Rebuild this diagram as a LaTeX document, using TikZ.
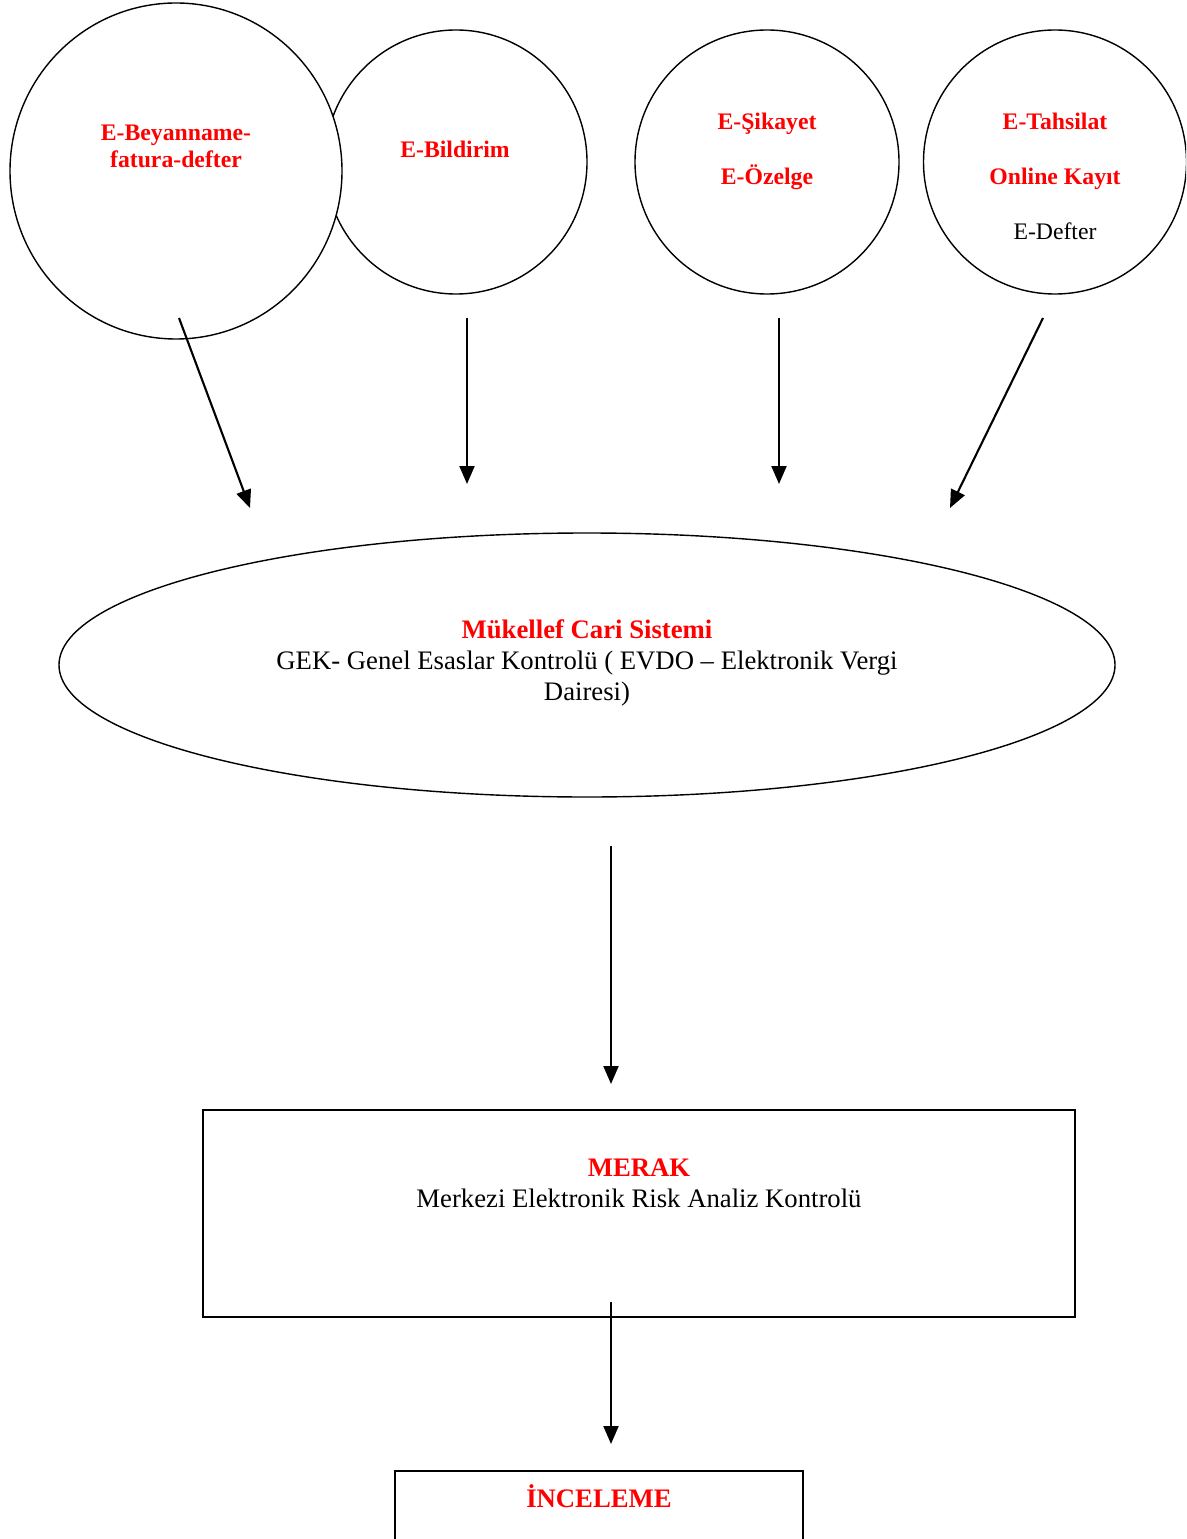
\documentclass[tikz,border=0pt]{standalone}
\usepackage{fontspec}
\setmainfont{Liberation Serif}
\usetikzlibrary{shapes.geometric,arrows.meta,positioning}
\tikzset{
	bubble/.style={draw, ellipse, line width=0.8pt, fill=white, inner sep=0pt},
	kutu/.style={draw, rectangle, line width=0.9pt, inner sep=0pt},
	ok/.style={-{Triangle[length=3.6mm,width=3mm]}, line width=1.2pt},
	bubtxt/.style={align=center, font=\fontsize{13.5}{31.3}\selectfont},
	maintxt/.style={align=center, font=\fontsize{15.2}{17.6}\selectfont}
}
\begin{document}
\begin{tikzpicture}
				\clip (0,0) rectangle (23.72,-30.78);
				% daireler
				\node[bubble, minimum width=5.24cm, minimum height=5.28cm] (bildir) at (9.12,-3.24) {};
				\node[bubble, minimum width=6.64cm, minimum height=6.72cm] (beyan) at (3.52,-3.42) {};
				\node[bubble, minimum width=5.28cm, minimum height=5.28cm] (sikayet) at (15.34,-3.24) {};
				\node[bubble, minimum width=5.26cm, minimum height=5.28cm] (tahsil) at (21.10,-3.24) {};
				\node[align=center, red, font=\fontsize{13.5}{15.3}\selectfont\bfseries] (tbeyan) at (3.52,-2.93) {E-Beyanname-\\fatura-defter};
				\node[bubtxt, red] (tbildir) at (9.10,-2.98) {\bfseries E-Bildirim};
				\node[bubtxt, red] (tsikayet) at (15.34,-3.03) {{\bfseries E-Şikayet}\\{\bfseries E-Özelge}};
				\node[bubtxt] (ttahsil) at (21.10,-3.52) {{\color{red}\bfseries E-Tahsilat}\\{\color{red}\bfseries Online Kayıt}\\E-Defter};
				% oklar
				\coordinate (a1) at (3.58,-6.36);
				\coordinate (a2) at (5.00,-10.16);
				\coordinate (b1) at (9.34,-6.36);
				\coordinate (b2) at (9.34,-9.68);
				\coordinate (c1) at (15.58,-6.36);
				\coordinate (c2) at (15.58,-9.68);
				\coordinate (d1) at (20.86,-6.36);
				\coordinate (d2) at (19.00,-10.16);
				\draw[ok] (a1)--(a2);
				\draw[ok] (b1)--(b2);
				\draw[ok] (c1)--(c2);
				\draw[ok] (d1)--(d2);
				% mukellef cari sistemi
				\node[bubble, minimum width=21.12cm, minimum height=5.28cm] (mcs) at (11.74,-13.30) {};
				\node[maintxt] (tmcs) at (11.74,-13.26) {{\color{red}\bfseries Mükellef Cari Sistemi}\\GEK- Genel Esaslar Kontrolü ( EVDO – Elektronik Vergi\\Dairesi)};
				\coordinate (e1) at (12.22,-16.92);
				\coordinate (e2) at (12.22,-21.68);
				\draw[ok] (e1)--(e2);
				% merak
				\node[kutu, minimum width=17.44cm, minimum height=4.14cm] (merak) at (12.78,-24.27) {};
				\node[maintxt] (tmerak) at (12.78,-23.66) {{\color{red}\bfseries MERAK}\\Merkezi Elektronik Risk Analiz Kontrolü};
				\coordinate (f1) at (12.22,-26.04);
				\coordinate (f2) at (12.22,-28.88);
				\draw[ok] (f1)--(f2);
				% inceleme
				\node[kutu, minimum width=8.16cm, minimum height=4cm, anchor=north] (incel) at (11.98,-29.40) {};
				\node[maintxt, red] (tincel) at (11.98,-29.92) {\bfseries İNCELEME};
\end{tikzpicture}
\end{document}
